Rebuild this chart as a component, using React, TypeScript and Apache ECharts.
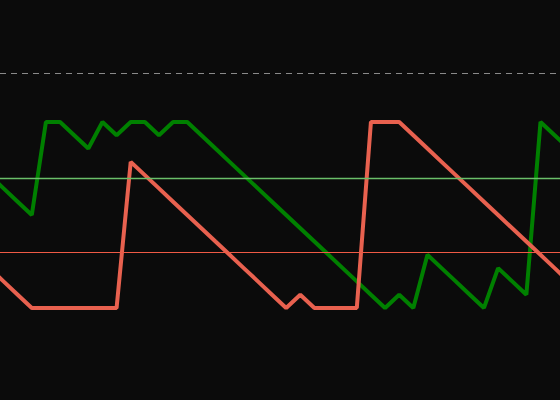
import React, { useEffect, useRef } from "react";
import * as echarts from "echarts";

// bar indices (period positions)
const bars = [-1, 0, 1, 2, 3, 4, 5, 6, 7, 8, 9, 10, 11, 12, 13, 14, 15, 16, 17, 18, 19, 20, 21, 22, 23, 24, 25, 26, 27, 28, 29, 30, 31, 32, 33, 34, 35, 36, 37, 38, 39, 40];

// Aroon Up (green)
const aroonUp = [71.43, 64.29, 57.14, 50, 100, 100, 92.86, 85.71, 100, 92.86, 100, 100, 92.86, 100, 100, 92.86, 85.71, 78.57, 71.43, 64.29, 57.14, 50, 42.86, 35.71, 28.57, 21.43, 14.29, 7.14, 0, 7.14, 0, 28.57, 21.43, 14.29, 7.14, 0, 21.43, 14.29, 7.14, 100, 92.86, 85.71];

// Aroon Down (red)
const aroonDown = [21.43, 14.29, 7.14, 0, 0, 0, 0, 0, 0, 0, 78.57, 71.43, 64.29, 57.14, 50, 42.86, 35.71, 28.57, 21.43, 14.29, 7.14, 0, 7.14, 0, 0, 0, 0, 100, 100, 100, 92.86, 85.71, 78.57, 71.43, 64.29, 57.14, 50, 42.86, 35.71, 28.57, 21.43, 14.29];

// reference levels
const upperLevel = 70;
const lowerLevel = 30;
const ceilingLevel = 126;

export default function App() {
  const ref = useRef<HTMLDivElement>(null);

  useEffect(() => {
    document.body.style.margin = "0";
    document.body.style.background = "#0b0b0b";
    const chart = echarts.init(ref.current!, null, { renderer: "svg" });
    const upData = bars.map((b, i) => [b, aroonUp[i]]);
    const downData = bars.map((b, i) => [b, aroonDown[i]]);
    chart.setOption({
      animation: false,
      backgroundColor: "#0b0b0b",
      grid: { left: 0, right: 0, top: 0, bottom: 0 },
      xAxis: {
        type: "value",
        min: -0.25,
        max: 39.38,
        show: false,
        splitLine: { show: false },
      },
      yAxis: {
        type: "value",
        min: -49.5,
        max: 165.6,
        show: false,
        splitLine: { show: false },
      },
      series: [
        {
          type: "line",
          data: [],
          z: 1,
          silent: true,
          markLine: {
            silent: true,
            symbol: ["none", "none"],
            label: { show: false },
            data: [
              { yAxis: ceilingLevel, lineStyle: { color: "#8a8a8a", width: 1, type: [6, 5] } },
              { yAxis: upperLevel, lineStyle: { color: "#6abf69", width: 1.3, type: "solid" } },
              { yAxis: lowerLevel, lineStyle: { color: "#ef5a45", width: 1, type: "solid" } },
            ],
          },
        },
        {
          name: "Aroon Up",
          type: "line",
          data: upData,
          z: 3,
          showSymbol: false,
          symbol: "none",
          lineStyle: { color: "#008000", width: 4 },
        },
        {
          name: "Aroon Down",
          type: "line",
          data: downData,
          z: 4,
          showSymbol: false,
          symbol: "none",
          lineStyle: { color: "#e8614f", width: 4 },
        },
      ],
    });
    return () => chart.dispose();
  }, []);

  return (
    <div
      ref={ref}
      style={{ position: "absolute", left: 0, top: 0, width: 560, height: 400 }}
    />
  );
}
